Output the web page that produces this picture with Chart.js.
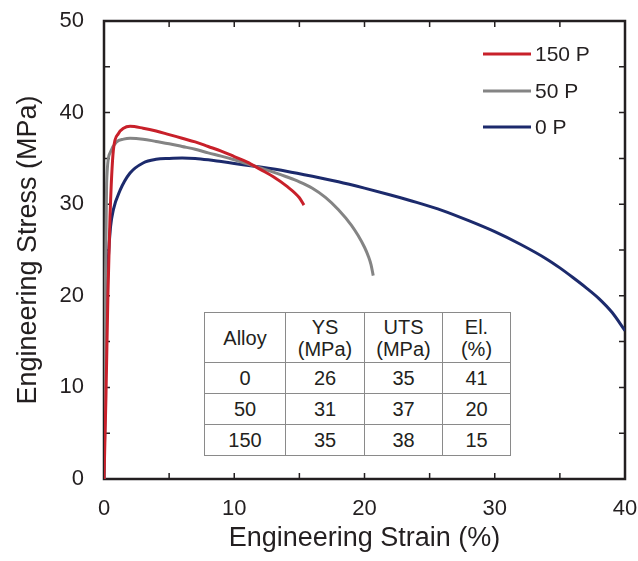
<!DOCTYPE html>
<html>
<head>
<meta charset="utf-8">
<script src="https://cdn.jsdelivr.net/npm/chart.js@4.4.1/dist/chart.umd.min.js"></script>
<style>
  html, body { margin: 0; padding: 0; background: #fff; }
  #wrap { position: relative; width: 638px; height: 561px; }
  #props {
    position: absolute; left: 204px; top: 312px;
    border-collapse: collapse; background: #fff;
    font-family: Arial, "Liberation Sans", sans-serif; font-size: 20px; color: #231f20;
  }
  #props td { border: 1px solid #8a8a8a; text-align: center; padding: 0; line-height: 22px; }
</style>
</head>
<body>
<div id="wrap">
  <canvas id="chart" width="638" height="561"></canvas>
  <table id="props"></table>
</div>
<script>
// stress-strain curves
const strain150 = [0, 0.15, 0.3, 0.46, 0.72, 1.1, 1.5, 2, 3, 4, 5, 6, 7, 8, 9, 10, 11, 12, 13, 14, 15, 15.35];
const stress150 = [0, 9, 20, 28.6, 35.9, 37.7, 38.3, 38.5, 38.3, 38.0, 37.6, 37.2, 36.8, 36.3, 35.8, 35.2, 34.6, 33.8, 33.0, 32.0, 30.7, 29.9];

const strain50 = [0, 0.05, 0.1, 0.2, 0.46, 0.97, 1.5, 2, 3, 4, 5, 6, 7, 8, 9, 10, 11, 12, 13, 14, 15, 16, 17, 18, 19, 19.5, 20, 20.3, 20.5, 20.67];
const stress50 = [0, 10, 20, 32.3, 35.6, 36.8, 37.1, 37.2, 37.1, 36.85, 36.6, 36.3, 36.0, 35.6, 35.25, 34.85, 34.4, 33.95, 33.5, 33.0, 32.45, 31.75, 30.75, 29.4, 27.7, 26.6, 25.3, 24.3, 23.4, 22.2];

const strain0 = [0, 0.1, 0.2, 0.33, 0.5, 0.72, 1.23, 2, 3, 4, 5, 6, 7, 8, 9, 10, 12, 14, 16, 18, 20, 22, 24, 26, 28, 30, 32, 34, 35, 36, 37, 38, 39, 40];
const stress0 = [0, 10, 18, 24, 27.5, 29.4, 31.5, 33.4, 34.5, 34.9, 35.0, 35.05, 35.0, 34.85, 34.65, 34.45, 34.05, 33.6, 33.05, 32.45, 31.75, 31.0, 30.2, 29.3, 28.2, 27.0, 25.6, 24.0, 23.05, 22.0, 20.9, 19.7, 18.2, 16.2];

const seriesNames = ['150 P', '50 P', '0 P'];
const seriesColors = ['#c8202a', '#848484', '#1c2a6c'];

// inset table
const tableHead = ['Alloy', 'YS<br>(MPa)', 'UTS<br>(MPa)', 'El.<br>(%)'];
const alloys = ['0', '50', '150'];
const ysValues = [26, 31, 35];
const utsValues = [35, 37, 38];
const elValues = [41, 20, 15];

function pts(xs, ys) {
    return xs.map((x, i) => ({ x: x, y: ys[i] }));
}

const colWidths = [80, 78, 77, 67];
const table = document.getElementById('props');
let html = '<tr style="height:50px">' + tableHead.map((h, i) => `<td style="width:${colWidths[i]}px">${h}</td>`).join('') + '</tr>';
alloys.forEach((a, i) => {
    html += `<tr style="height:31px"><td>${a}</td><td>${ysValues[i]}</td><td>${utsValues[i]}</td><td>${elValues[i]}</td></tr>`;
});
table.innerHTML = html;

const FONT = 'Arial, "Liberation Sans", sans-serif';
const TEXT = '#231f20';

// frame with inward ticks on all four sides
const framePlugin = {
    id: 'frame',
    beforeDatasetsDraw(chart) {
        const { ctx, chartArea: a, scales } = chart;
        ctx.save();
        ctx.strokeStyle = '#231f20';
        ctx.lineWidth = 1.5;
        for (let v = 5; v < 40; v += 5) {
            const px = scales.x.getPixelForValue(v);
            ctx.beginPath();
            ctx.moveTo(px, a.bottom); ctx.lineTo(px, a.bottom - 6);
            ctx.moveTo(px, a.top); ctx.lineTo(px, a.top + 6);
            ctx.stroke();
        }
        for (let v = 5; v < 50; v += 5) {
            const py = scales.y.getPixelForValue(v);
            ctx.beginPath();
            ctx.moveTo(a.left, py); ctx.lineTo(a.left + 6, py);
            ctx.moveTo(a.right, py); ctx.lineTo(a.right - 6, py);
            ctx.stroke();
        }
        ctx.lineWidth = 2.5;
        ctx.strokeRect(a.left, a.top, a.right - a.left, a.bottom - a.top);
        ctx.restore();
    },
    afterDraw(chart) {
        const { ctx } = chart;
        ctx.save();
        ctx.font = '21px ' + FONT;
        ctx.textBaseline = 'middle';
        const rows = [54, 91, 127];
        chart.data.datasets.forEach((ds, i) => {
            ctx.strokeStyle = ds.borderColor;
            ctx.lineWidth = 3;
            ctx.beginPath();
            ctx.moveTo(483, rows[i]); ctx.lineTo(531, rows[i]);
            ctx.stroke();
            ctx.fillStyle = TEXT;
            ctx.fillText(ds.label, 535, rows[i] + 1);
        });
        ctx.restore();
    }
};

new Chart(document.getElementById('chart'), {
    type: 'line',
    data: {
        datasets: [
            { label: seriesNames[0], data: pts(strain150, stress150), borderColor: seriesColors[0] },
            { label: seriesNames[1], data: pts(strain50, stress50), borderColor: seriesColors[1] },
            { label: seriesNames[2], data: pts(strain0, stress0), borderColor: seriesColors[2] }
        ].map(d => Object.assign(d, { borderWidth: 3, pointRadius: 0, fill: false, cubicInterpolationMode: 'monotone' }))
    },
    options: {
        responsive: false,
        animation: false,
        layout: { padding: { top: 21, right: 13, left: 0, bottom: 0 } },
        plugins: { legend: { display: false }, tooltip: { enabled: false } },
        scales: {
            x: {
                type: 'linear', min: 0, max: 40,
                ticks: { stepSize: 10, padding: 17, color: TEXT, font: { family: FONT, size: 22 }, maxRotation: 0 },
                grid: { display: false, drawTicks: false },
                border: { display: false },
                title: { display: true, text: 'Engineering Strain (%)', color: TEXT, font: { family: FONT, size: 27 }, padding: { top: 0, bottom: 6 } },
                afterFit(s) { s.height = 82; s.paddingLeft = 0; s.paddingRight = 0; }
            },
            y: {
                type: 'linear', min: 0, max: 50,
                ticks: { stepSize: 10, padding: 20, color: TEXT, font: { family: FONT, size: 22 } },
                grid: { display: false, drawTicks: false },
                border: { display: false },
                title: { display: true, text: 'Engineering Stress (MPa)', color: TEXT, font: { family: FONT, size: 27 }, padding: { top: 12, bottom: 0 } },
                afterFit(s) { s.width = 104; s.paddingTop = 0; s.paddingBottom = 0; }
            }
        }
    },
    plugins: [framePlugin]
});
</script>
</body>
</html>
